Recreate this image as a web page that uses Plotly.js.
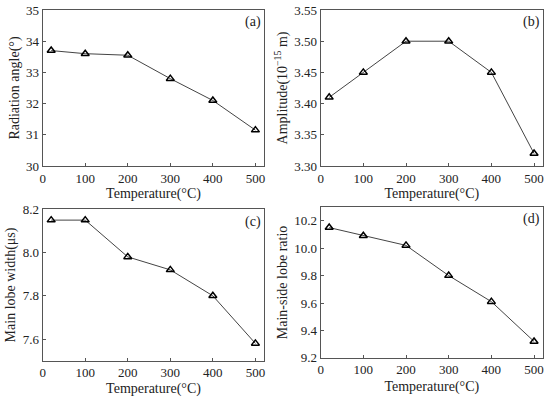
<!DOCTYPE html>
<html><head><meta charset="utf-8">
<script src="https://cdn.plot.ly/plotly-3.0.1.min.js"></script>
<style>body{margin:0;background:#fff}#c{width:550px;height:397px}</style>
</head><body><div id="c"></div>
<script>
const temps = [20, 100, 200, 300, 400, 500];
const radiationAngle = [33.7, 33.6, 33.55, 32.8, 32.1, 31.15];
const amplitude = [3.41, 3.45, 3.50, 3.50, 3.45, 3.32];
const mainLobeWidth = [8.15, 8.15, 7.98, 7.92, 7.80, 7.58];
const mainSideRatio = [10.15, 10.09, 10.02, 9.80, 9.61, 9.32];
const panelLabels = ['(a)', '(b)', '(c)', '(d)'];
const yTitles = ['Radiation angle(°)', 'Amplitude(10<sup>−15</sup> m)', 'Main lobe width(μs)', 'Main-side lobe ratio'];
const xTitle = 'Temperature(°C)';

const series = [radiationAngle, amplitude, mainLobeWidth, mainSideRatio];
const FAM = '"Liberation Serif"';
const font = {family: FAM, size: 14, color: '#222'};
const traces = series.map((s, i) => ({
  x: temps, y: s, xaxis: 'x' + (i ? i + 1 : ''), yaxis: 'y' + (i ? i + 1 : ''),
  mode: 'lines+markers', type: 'scatter',
  line: {color: '#444', width: 1},
  marker: {symbol: 'triangle-up-open', size: 7, color: '#000', line: {width: 1.5, color: '#000'}},
  showlegend: false
}));

const xd = [[0.0776, 0.4806], [0.583, 0.9873], [0.0776, 0.4806], [0.583, 0.9873]];
const yd = [[0.5819, 0.9748], [0.5819, 0.9748], [0.0914, 0.4728], [0.0985, 0.4786]];
const yr = [[30, 35], [3.30, 3.55], [7.5, 8.2], [9.2, 10.3]];
const ydt = [1, 0.05, 0.2, 0.2];
const yfmt = ['d', '.2f', '.1f', '.1f'];
const xStandoff = [2, 2, 4, 4];

const layout = {
  width: 550, height: 397, margin: {l: 0, r: 0, t: 0, b: 0},
  paper_bgcolor: '#fff', plot_bgcolor: '#fff', font: font, annotations: []
};
const axBase = {
  showgrid: false, zeroline: false, showline: true, mirror: true,
  linecolor: '#555', linewidth: 1, ticks: 'inside', ticklen: 3, tickcolor: '#555',
  tickfont: {family: FAM, size: 13, color: '#222'}
};
for (let i = 0; i < 4; i++) {
  const sfx = i ? String(i + 1) : '';
  layout['xaxis' + sfx] = Object.assign({}, axBase, {
    domain: xd[i], range: [0, 521], dtick: 100, tick0: 0, anchor: 'y' + sfx,
    title: {text: xTitle, font: {family: FAM, size: 14, color: '#222'}, standoff: xStandoff[i]}
  });
  layout['yaxis' + sfx] = Object.assign({}, axBase, {
    domain: yd[i], range: yr[i], dtick: ydt[i], tickformat: yfmt[i], anchor: 'x' + sfx,
    title: {text: yTitles[i], font: {family: FAM, size: 14, color: '#222'}, standoff: 3}
  });
  layout.annotations.push({
    text: panelLabels[i], xref: 'x' + sfx + ' domain', yref: 'y' + sfx + ' domain',
    x: 0.995, y: 0.985, xanchor: 'right', yanchor: 'top', showarrow: false,
    font: {family: FAM, size: 14, color: '#222'}
  });
}
Plotly.newPlot('c', traces, layout, {staticPlot: true});
</script></body></html>
